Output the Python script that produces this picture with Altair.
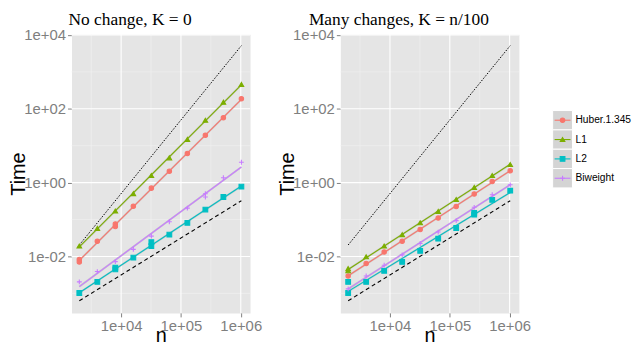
import altair as alt
import pandas as pd

# ---------------- data ----------------
n_values = [2000, 4000, 8000, 16000, 32000, 64000, 128000, 256000, 512000, 1024000]
methods = ["Huber.1.345", "L1", "L2", "Biweight"]
method_colors = ["#F8766D", "#7CAE00", "#00BFC4", "#C77CFF"]
method_shapes = ["circle", "triangle-up", "square", "M-1,0H1M0,-1V1"]

panel_titles = ["No change, K = 0", "Many changes, K = n/100"]

# Panel 1: no change (time in seconds)
nc_huber = [0.0083, 0.0257, 0.0759, 0.229, 0.708, 2.04, 6.17, 19.1, 57.5, 186]
nc_l1 = [0.0191, 0.0575, 0.170, 0.501, 1.55, 4.68, 14.8, 49.0, 151, 457]
nc_l2 = [0.00102, 0.00204, 0.00447, 0.00933, 0.0191, 0.0389, 0.0813, 0.186, 0.407, 0.776]
nc_biweight = [0.00204, 0.00389, 0.00724, 0.0155, 0.0355, 0.0871, 0.204, 0.501, 1.35, 3.55]

# Panel 2: many changes
mc_huber = [0.00295, 0.00646, 0.0132, 0.0257, 0.0537, 0.110, 0.224, 0.490, 1.07, 2.09]
mc_l1 = [0.00468, 0.00977, 0.0191, 0.0389, 0.0813, 0.166, 0.347, 0.741, 1.55, 3.09]
mc_l2 = [0.00102, 0.00204, 0.00407, 0.00708, 0.0141, 0.0302, 0.0589, 0.135, 0.339, 0.603]
mc_biweight = [0.00132, 0.00295, 0.00575, 0.0110, 0.0224, 0.0457, 0.0933, 0.214, 0.468, 0.871]

# additional replicate points visible in the picture: (panel, method, n, time)
extra_points = [
    (0, "Huber.1.345", 2000, 0.0071),
    (0, "Huber.1.345", 8000, 0.0646),
    (0, "L2", 8000, 0.0050),
    (0, "L2", 32000, 0.0245),
    (0, "Biweight", 256000, 0.407),
    (1, "L1", 2000, 0.00407),
    (1, "L2", 2000, 0.00204),
    (1, "L2", 256000, 0.151),
]

# reference lines (dotted: quadratic, dashed: linear)
ref_n = [2000, 1024000]
ref_quadratic = [0.0204, 5130]
ref_linear = [0.00063, 0.324]

# axes
x_ticks = [1e4, 1e5, 1e6]
x_minor = [3162.3, 31623, 316228]
y_ticks = [1e-2, 1, 1e2, 1e4]
y_minor = [1e-3, 1e-1, 1e1, 1e3]
x_domain = [1480, 1430000]
y_domain = [0.000295, 10500]

# ---------------- build tables ----------------
panel_series = [
    [nc_huber, nc_l1, nc_l2, nc_biweight],
    [mc_huber, mc_l1, mc_l2, mc_biweight],
]


def points_table(p):
    rows = []
    for m, series in zip(methods, panel_series[p]):
        for n, t in zip(n_values, series):
            rows.append({"method": m, "n": n, "time": t})
    for pp, m, n, t in extra_points:
        if pp == p:
            rows.append({"method": m, "n": n, "time": t})
    return pd.DataFrame(rows)


ref_df = pd.DataFrame(
    {"n": ref_n + ref_n,
     "time": ref_quadratic + ref_linear,
     "kind": ["quadratic"] * 2 + ["linear"] * 2}
)

LABEL = ("'1e' + (round(log(datum.value)/LN10) < 0 ? '-' : '+') + "
         "(abs(round(log(datum.value)/LN10)) < 10 ? '0' : '') + "
         "abs(round(log(datum.value)/LN10))")

color_scale = alt.Scale(domain=methods, range=method_colors)
shape_scale = alt.Scale(domain=methods, range=method_shapes)
size_scale = alt.Scale(domain=methods, range=[20, 24, 18, 40])
band_scale = alt.Scale(domain=methods, range=[2, 2, 2.5, 5])

GRAY = "#7F7F7F"


def panel(p):
    xscale = alt.Scale(type="log", domain=x_domain, nice=False)
    yscale = alt.Scale(type="log", domain=y_domain, nice=False)
    xaxis = alt.Axis(values=x_ticks, labelExpr=LABEL, title="n", grid=False, titleY=13)
    yaxis = alt.Axis(values=y_ticks, labelExpr=LABEL, title="Time", grid=False,
                     titleX=-47, titleBaseline="alphabetic")

    def X(f):
        return alt.X(f, type="quantitative", scale=xscale, axis=xaxis)

    def Y(f):
        return alt.Y(f, type="quantitative", scale=yscale, axis=yaxis)

    pts = points_table(p)

    gx_minor = alt.Chart(pd.DataFrame({"v": x_minor})).mark_rule(
        color="#F2F2F2", strokeWidth=0.6).encode(x=X("v"))
    gy_minor = alt.Chart(pd.DataFrame({"v": y_minor})).mark_rule(
        color="#F2F2F2", strokeWidth=0.6).encode(y=Y("v"))
    gx_major = alt.Chart(pd.DataFrame({"v": x_ticks})).mark_rule(
        color="white", strokeWidth=1.1).encode(x=X("v"))
    gy_major = alt.Chart(pd.DataFrame({"v": y_ticks})).mark_rule(
        color="white", strokeWidth=1.1).encode(y=Y("v"))

    fit = (
        alt.Chart(pts)
        .transform_calculate(lx="log(datum.n)/LN10", ly="log(datum.time)/LN10")
        .transform_regression("lx", "ly", groupby=["method"])
        .transform_calculate(n="pow(10, datum.lx)", time="pow(10, datum.ly)")
    )
    band = fit.mark_line(color="#999999", opacity=0.35).encode(
        x=X("n"), y=Y("time"), detail="method:N",
        strokeWidth=alt.StrokeWidth("method:N", scale=band_scale, legend=None))
    fit_lines = fit.mark_line(strokeWidth=1.1).encode(
        x=X("n"), y=Y("time"),
        color=alt.Color("method:N", scale=color_scale, legend=None))

    quad = alt.Chart(ref_df).transform_filter("datum.kind == 'quadratic'").mark_line(
        color="black", strokeWidth=1, strokeDash=[1.5, 1.5]).encode(x=X("n"), y=Y("time"))
    lin = alt.Chart(ref_df).transform_filter("datum.kind == 'linear'").mark_line(
        color="black", strokeWidth=1.1, strokeDash=[4, 3]).encode(x=X("n"), y=Y("time"))

    points = alt.Chart(pts).mark_point(filled=True, opacity=1, strokeWidth=1.1).encode(
        x=X("n"), y=Y("time"),
        color=alt.Color("method:N", scale=color_scale, legend=None),
        stroke=alt.Stroke("method:N", scale=color_scale, legend=None),
        shape=alt.Shape("method:N", scale=shape_scale, legend=None),
        size=alt.Size("method:N", scale=size_scale, legend=None),
    )

    return alt.layer(
        gx_minor, gy_minor, gx_major, gy_major, band, quad, lin, fit_lines, points
    ).properties(
        width=180, height=281,
        title=alt.TitleParams(panel_titles[p], font="Liberation Serif", fontSize=17.5,
                              fontWeight="normal", anchor="middle", dx=-31, offset=0,
                              color="black"),
        view=alt.ViewBackground(fill="#E5E5E5", stroke="transparent"),
    )


SPACING = 91
KEY_X = -57  # legend keys sit left of the (narrow) legend cell origin

legend_df = pd.DataFrame({"method": methods})
ly = alt.Y("method:N", sort=methods, axis=None,
           scale=alt.Scale(domain=methods, range=[77, 155], paddingInner=0, paddingOuter=0))
leg_key = alt.Chart(legend_df).mark_rect(fill="#D4D4D4", stroke="white", strokeWidth=1).encode(
    x=alt.value(KEY_X), x2=alt.value(KEY_X + 20), y=ly)
leg_line = alt.Chart(legend_df).mark_rule(strokeWidth=1.1).encode(
    x=alt.value(KEY_X + 2), x2=alt.value(KEY_X + 18), y=ly,
    color=alt.Color("method:N", scale=color_scale, legend=None))
leg_pt = alt.Chart(legend_df).mark_point(filled=True, opacity=1, strokeWidth=1.1).encode(
    x=alt.value(KEY_X + 10), y=ly,
    color=alt.Color("method:N", scale=color_scale, legend=None),
    stroke=alt.Stroke("method:N", scale=color_scale, legend=None),
    shape=alt.Shape("method:N", scale=shape_scale, legend=None),
    size=alt.Size("method:N", scale=size_scale, legend=None))
leg_txt = alt.Chart(legend_df).mark_text(align="left", baseline="middle", fontSize=10.3,
                                         font="Liberation Sans", color="black").encode(
    x=alt.value(KEY_X + 23), y=ly, text="method:N")
legend = alt.layer(leg_key, leg_line, leg_pt, leg_txt).properties(
    width=5, height=281,
    view=alt.ViewBackground(fill="white", stroke="transparent"))

chart = alt.hconcat(panel(0), panel(1), legend, spacing=SPACING, bounds="flush").properties(
    padding=0
).configure_axis(
    labelFont="Liberation Sans", labelFontSize=15, labelColor=GRAY,
    tickColor=GRAY, tickSize=4, labelPadding=2, domain=False,
    titleFont="Liberation Sans", titleFontSize=20, titleFontWeight="normal",
    titleColor="black",
)

chart.save("out.html", embed_options={"renderer": "svg", "actions": False})
